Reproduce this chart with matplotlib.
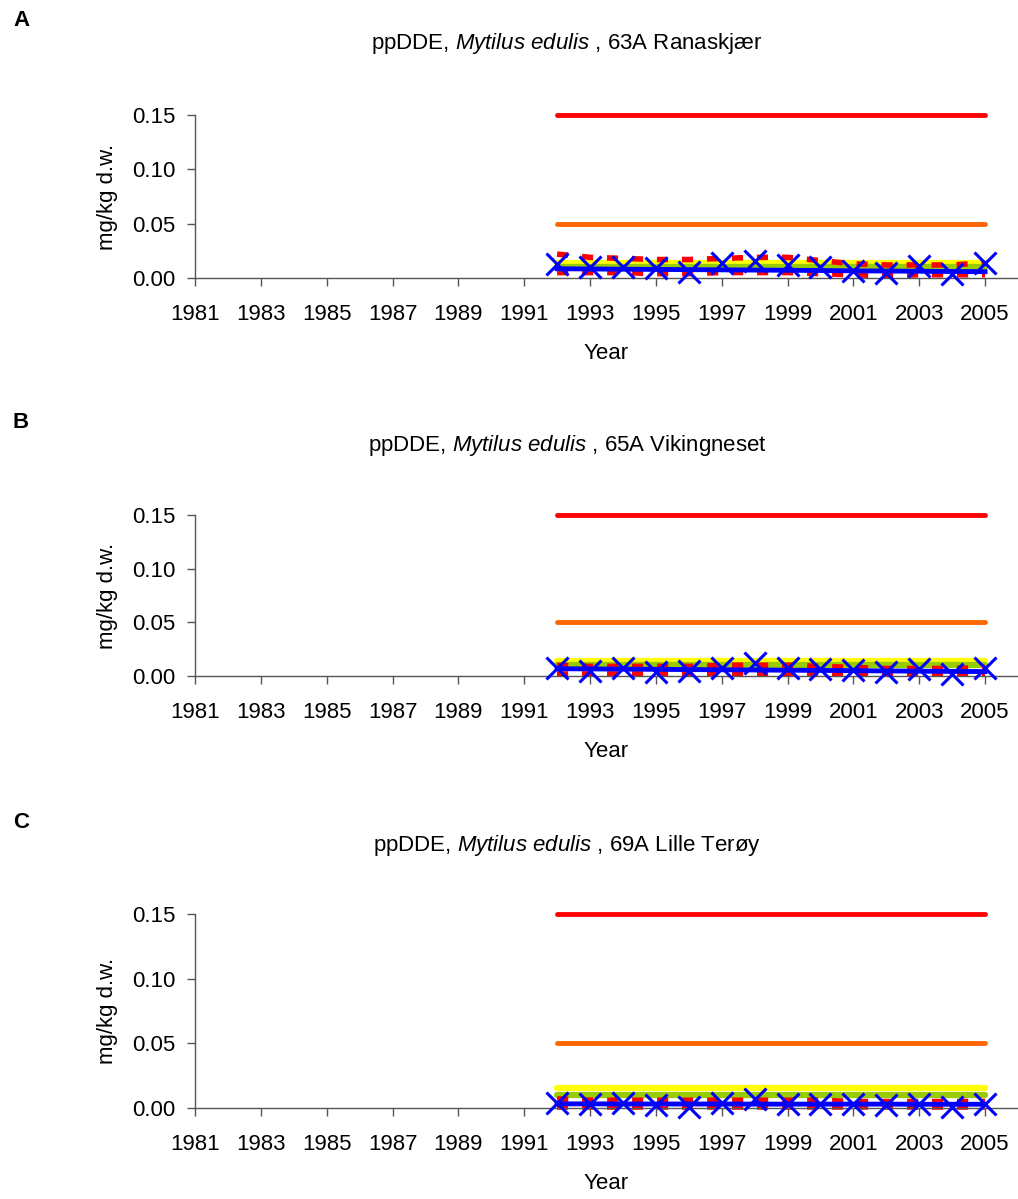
import numpy as np
import matplotlib
matplotlib.use("Agg")
import matplotlib.pyplot as plt

plt.rcParams['font.family'] = ['Liberation Sans', 'DejaVu Sans']
plt.rcParams['mathtext.fontset'] = 'custom'
plt.rcParams['mathtext.rm'] = 'Liberation Sans'
plt.rcParams['mathtext.it'] = 'Liberation Sans:italic'

# === DATA ===
years = np.arange(1992, 2006)
letters = ["A", "B", "C"]
stations = ["63A Ranaskjær", "65A Vikingneset", "69A Lille Terøy"]

limit_red = 0.15
limit_orange = 0.05
yellow_level = [0.0137, 0.0143, 0.0152]
green_level = [0.0098, 0.0102, 0.0103]

medians = [
    [0.0127, 0.0097, 0.0103, 0.0088, 0.0052, 0.0134, 0.0158,
     0.0118, 0.0103, 0.0067, 0.0042, 0.0112, 0.0036, 0.0139],
    [0.0078, 0.0050, 0.0078, 0.0040, 0.0050, 0.0078, 0.0118,
     0.0078, 0.0068, 0.0056, 0.0034, 0.0062, 0.0022, 0.0078],
    [0.0038, 0.0030, 0.0038, 0.0023, 0.0005, 0.0038, 0.0069,
     0.0030, 0.0030, 0.0030, 0.0023, 0.0030, 0.0005, 0.0030],
]
trend = [
    [0.0085, 0.0083, 0.0081, 0.0079, 0.0077, 0.0075, 0.0073,
     0.0071, 0.0069, 0.0066, 0.0064, 0.0062, 0.0060, 0.0058],
    [0.0068, 0.0066, 0.0064, 0.0062, 0.0060, 0.0058, 0.0056,
     0.0054, 0.0052, 0.0050, 0.0047, 0.0045, 0.0043, 0.0041],
    [0.0032, 0.0032, 0.0031, 0.0031, 0.0031, 0.0031, 0.0030,
     0.0030, 0.0030, 0.0030, 0.0030, 0.0029, 0.0029, 0.0029],
]
upper = [
    [0.022, 0.019, 0.018, 0.017, 0.017, 0.018, 0.019,
     0.019, 0.016, 0.013, 0.012, 0.012, 0.012, 0.014],
    [0.010, 0.009, 0.009, 0.009, 0.009, 0.010, 0.010,
     0.010, 0.009, 0.008, 0.007, 0.007, 0.007, 0.008],
    [0.007, 0.006, 0.006, 0.006, 0.006, 0.006, 0.006,
     0.006, 0.006, 0.005, 0.005, 0.005, 0.005, 0.005],
]
lower = [
    [0.005, 0.005, 0.005, 0.004, 0.004, 0.005, 0.005,
     0.005, 0.004, 0.003, 0.002, 0.003, 0.003, 0.003],
    [0.002, 0.002, 0.002, 0.002, 0.002, 0.002, 0.002,
     0.002, 0.002, 0.002, 0.002, 0.002, 0.002, 0.002],
    [0.001, 0.001, 0.001, 0.001, 0.001, 0.001, 0.001,
     0.001, 0.001, 0.001, 0.001, 0.001, 0.001, 0.001],
]
yticks = [0.00, 0.05, 0.10, 0.15]
xtick_years = np.arange(1981, 2006, 2)

# === LAYOUT (pixels) ===
W, H = 1018, 1199
fig = plt.figure(figsize=(W / 100, H / 100), dpi=100)

ax_left, ax_right = 195, 1018
panels = [(115, 278), (515, 676), (914, 1108)]  # top, bottom of each axes
letter_y = [21, 423, 823]
title_y = [43, 445, 845]
fs = 16

for i in range(3):
    top, bot = panels[i]
    ax = fig.add_axes([ax_left / W, 1 - bot / H, (ax_right - ax_left) / W, (bot - top) / H])
    ax.set_xlim(1981, 2006)
    ax.set_ylim(0, 0.15)

    ax.plot(years, [limit_red] * len(years), color='#FF0000', lw=3.5,
            solid_capstyle='round', clip_on=False)
    ax.plot(years, [limit_orange] * len(years), color='#FF6600', lw=3.5,
            solid_capstyle='round', clip_on=False)
    ax.plot(years, [yellow_level[i]] * len(years), color='#FFFF00', lw=4.5,
            solid_capstyle='round', clip_on=False)
    ax.plot(years, [green_level[i]] * len(years), color='#99CC00', lw=4.5,
            solid_capstyle='round', clip_on=False)
    ax.plot(years, upper[i], color='#FF0000', lw=4, ls=(0, (2, 2.5)), clip_on=False)
    ax.plot(years, lower[i], color='#FF0000', lw=4, ls=(0, (2, 2.5)), clip_on=False)
    ax.plot(years, trend[i], color='#0000FF', lw=3.5, clip_on=False)
    ax.plot(years, medians[i], ls='none', marker='x', ms=16, mew=2.2,
            color='#0000FF', clip_on=False, zorder=5)

    ax.spines['top'].set_visible(False)
    ax.spines['right'].set_visible(False)
    for s in ['left', 'bottom']:
        ax.spines[s].set_color('#555555')
        ax.spines[s].set_linewidth(1)
    ax.set_xticks(xtick_years)
    ax.set_xticklabels([str(y) for y in xtick_years])
    ax.set_yticks(yticks)
    ax.set_yticklabels(["%.2f" % v for v in yticks])
    ax.tick_params(axis='both', direction='out', length=6, width=1, color='#555555',
                   labelsize=fs)
    ax.tick_params(axis='y', pad=8)
    ax.tick_params(axis='x', pad=13)
    ax.set_xlabel("Year", fontsize=fs, labelpad=13)
    ax.set_ylabel("mg/kg d.w.", fontsize=fs, labelpad=10)

    fig.text(13 / W, 1 - letter_y[i] / H, letters[i], fontsize=fs, fontweight='bold',
             ha='left', va='center')
    fig.text(567 / W, 1 - title_y[i] / H,
             r"ppDDE, $\mathit{Mytilus\ edulis}$ , " + stations[i],
             fontsize=fs, ha='center', va='center')

fig.savefig("out.png", dpi=100)
